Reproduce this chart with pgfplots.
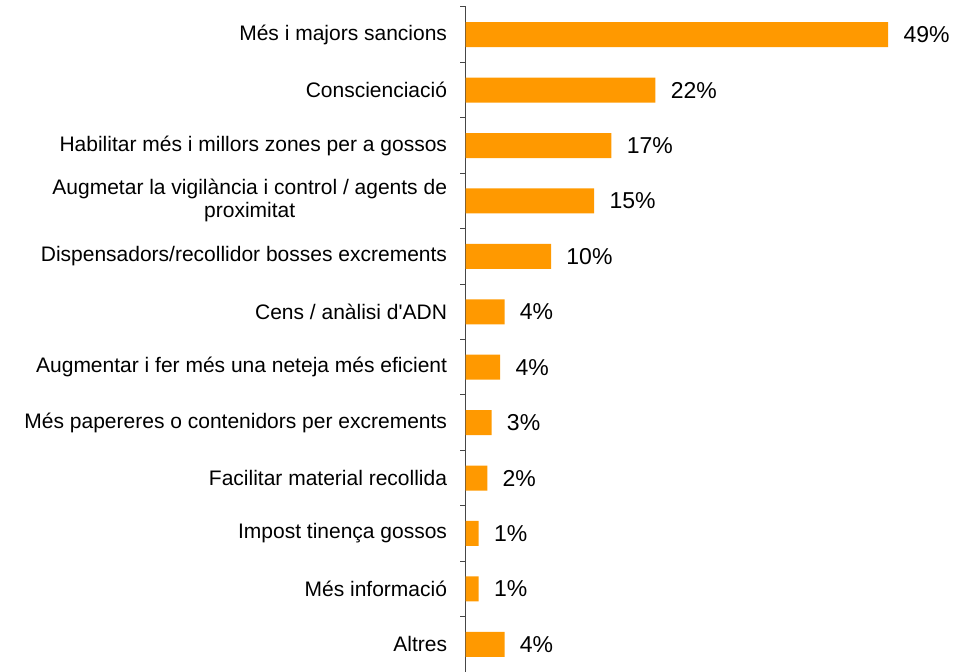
\documentclass[border=0pt]{standalone}
\usepackage{pgfplots}
\pgfplotsset{compat=1.18}
\usepackage{pgfplotstable}
\usepackage{fontspec}
\setmainfont{Liberation Sans}
\definecolor{barorange}{RGB}{255,153,0}
\definecolor{axisgray}{RGB}{70,70,70}
\pgfplotstableread{
idx val lab
1 49.0 49
2 22.0 22
3 16.9 17
4 14.9 15
5 9.9 10
6 4.5 4
7 4.0 4
8 3.0 3
9 2.5 2
10 1.5 1
11 1.5 1
12 4.5 4
}\datatable
\begin{document}
\begin{tikzpicture}
\begin{axis}[
  at={(349.3pt,-0.75pt)}, anchor=south west,
  scale only axis, width=316.8pt, height=498.75pt,
  xbar, bar width=18.75pt,
  xmin=0, xmax=49,
  ymin=0.5, ymax=12.5, y dir=reverse,
  hide x axis, axis y line*=left,
  y axis line style={draw=axisgray, line width=0.75pt},
  ytick={0.5,1.5,...,12.5},
  yticklabels={M\'es i majors sancions, Conscienciaci\'o, Habilitar m\'es i millors zones per a gossos,
    {\begin{tabular}{@{}c@{}}Augmetar la vigil\`ancia i control / agents de\\proximitat\end{tabular}},
    Dispensadors/recollidor bosses excrements, Cens / an\`alisi d\textquotesingle ADN,
    Augmentar i fer m\'es una neteja m\'es eficient, M\'es papereres o contenidors per excrements,
    Facilitar material recollida, Impost tinen\c{c}a gossos, M\'es informaci\'o, Altres, {}},
  ytick pos=left, ytick align=outside,
  major tick length=4pt,
  every tick/.style={draw=axisgray, line width=0.75pt},
  yticklabel style={font=\fontsize{15.75}{17.25}\selectfont, anchor=east, xshift=-6.5pt, yshift=-20.78pt},
  clip=false,
  point meta=explicit symbolic,
  nodes near coords={\pgfplotspointmeta\%},
  nodes near coords style={font=\fontsize{17.25}{20}\selectfont, anchor=west, xshift=8pt, text=black},
]
\addplot[fill=barorange, draw=none] table[x=val, y=idx, meta=lab] {\datatable};
\end{axis}
\pgfresetboundingbox
\path[use as bounding box] (0,0) rectangle (727.5pt,503.25pt);
\end{tikzpicture}
\end{document}
